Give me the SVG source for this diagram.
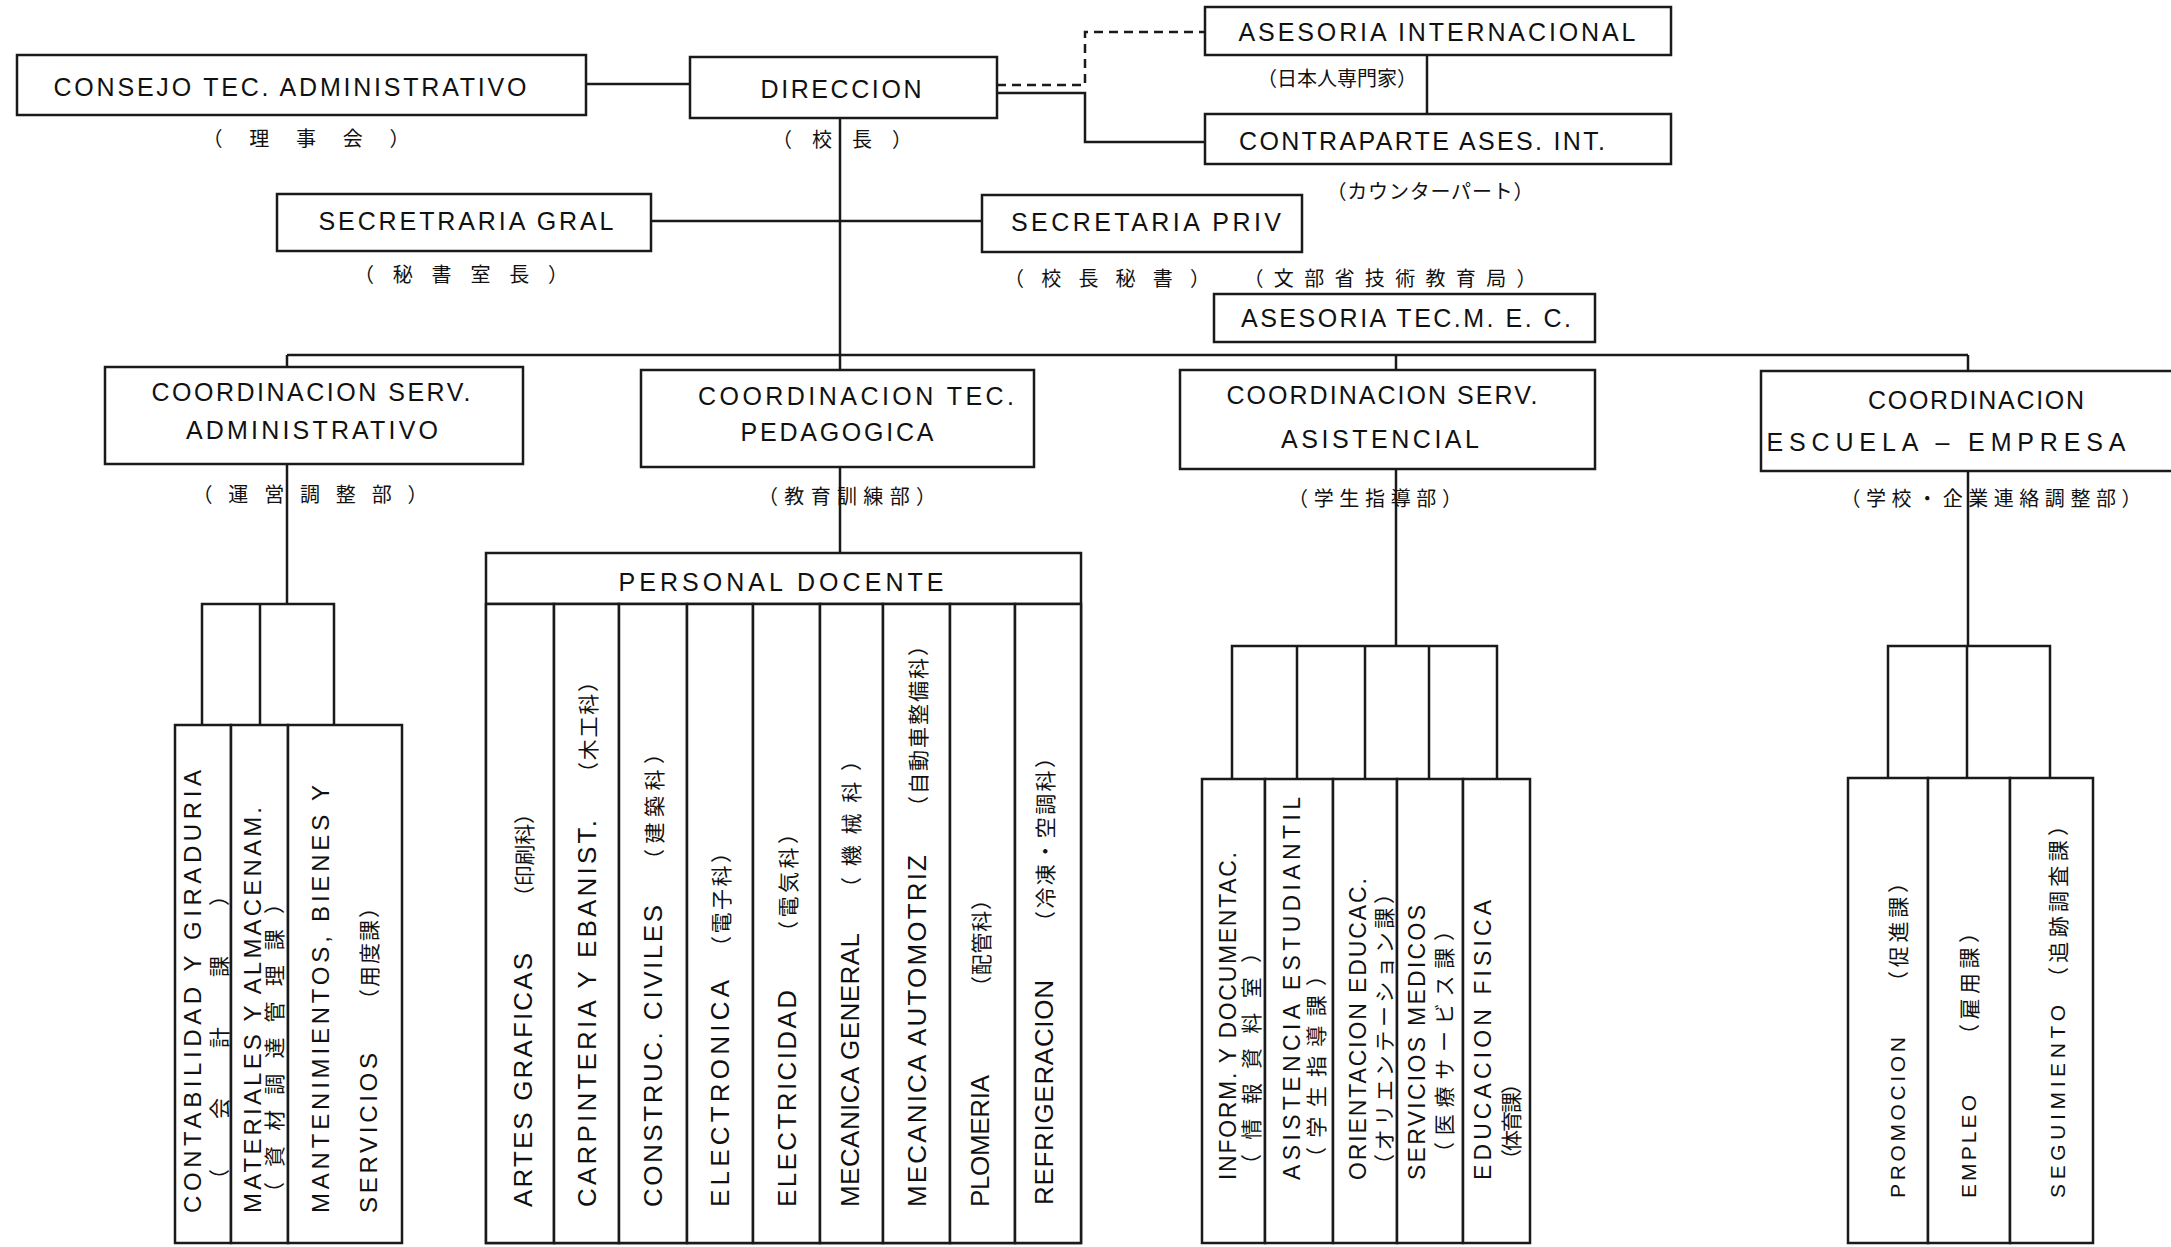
<svg xmlns="http://www.w3.org/2000/svg" width="2171" height="1247" viewBox="0 0 2171 1247">
<style>
.bg{fill:#fff}
.box{fill:#fff;stroke:#1a1a1a;stroke-width:2.5}
.ln{fill:none;stroke:#1a1a1a;stroke-width:2.5}
.dash{stroke-dasharray:9 6}
.t{font-family:"Liberation Sans",Arial,sans-serif;font-size:25px;fill:#111;text-anchor:middle;dominant-baseline:central}
.j{font-family:"Noto Sans CJK JP","Noto Sans CJK SC",sans-serif;font-size:20px;fill:#111;text-anchor:middle;dominant-baseline:central}
.v{font-family:"Liberation Sans",Arial,sans-serif;font-size:26px;fill:#111;text-anchor:start;dominant-baseline:central}
.vj{font-family:"Noto Sans CJK JP","Noto Sans CJK SC",sans-serif;font-size:21px;fill:#111;text-anchor:start;dominant-baseline:central}
.s24{font-size:24px}.s23{font-size:23px}.s21{font-size:21px}
</style>
<rect class="bg" x="0" y="0" width="2171" height="1247"/>

<g id="connectors">
  <line class="ln" x1="586" y1="84" x2="690" y2="84"/>
  <path class="ln dash" d="M997,85 H1085 V32 H1205"/>
  <path class="ln" d="M997,93 H1085 V142 H1205"/>
  <line class="ln" x1="1427" y1="55" x2="1427" y2="114"/>
  <line class="ln" x1="651" y1="221" x2="982" y2="221"/>
  <line class="ln" x1="840" y1="118" x2="840" y2="370"/>
  <line class="ln" x1="287" y1="355" x2="1968" y2="355"/>
  <line class="ln" x1="287" y1="355" x2="287" y2="367"/>
  <line class="ln" x1="1396" y1="355" x2="1396" y2="370"/>
  <line class="ln" x1="1968" y1="355" x2="1968" y2="371"/>
  <line class="ln" x1="287" y1="464" x2="287" y2="604"/>
  <line class="ln" x1="840" y1="467" x2="840" y2="553"/>
  <line class="ln" x1="1396" y1="469" x2="1396" y2="646"/>
  <line class="ln" x1="1968" y1="471" x2="1968" y2="646"/>
  <path class="ln" d="M202,725 V604 H334 V725 M260,604 V725"/>
  <path class="ln" d="M1232,779 V646 H1497 V779 M1297,646 V779 M1365,646 V779 M1429,646 V779"/>
  <path class="ln" d="M1888,778 V646 H2050 V778 M1967,646 V778"/>
</g>

<g id="consejo">
  <rect class="box" x="17" y="55" width="569" height="60"/>
  <text class="t" x="290" y="87" textLength="473">CONSEJO TEC. ADMINISTRATIVO</text>
  <text class="j" x="306" y="137" textLength="207">（理事会）</text>
</g>
<g id="direccion">
  <rect class="box" x="690" y="57" width="307" height="61"/>
  <text class="t" x="841" y="89" textLength="161">DIRECCION</text>
  <text class="j" x="842" y="138" textLength="140">（校長）</text>
</g>
<g id="asesoria-internacional">
  <rect class="box" x="1205" y="7" width="466" height="48"/>
  <text class="t" x="1437" y="32" textLength="397">ASESORIA INTERNACIONAL</text>
  <text class="j" x="1337" y="77" textLength="160">（日本人専門家）</text>
</g>
<g id="contraparte">
  <rect class="box" x="1205" y="114" width="466" height="50"/>
  <text class="t" x="1422" y="141" textLength="366">CONTRAPARTE ASES. INT.</text>
  <text class="j" x="1430" y="190" textLength="207">（カウンターパート）</text>
</g>
<g id="secretraria-gral">
  <rect class="box" x="277" y="194" width="374" height="57"/>
  <text class="t" x="466" y="221" textLength="295">SECRETRARIA GRAL</text>
  <text class="j" x="461" y="273" textLength="214">（秘書室長）</text>
</g>
<g id="secretaria-priv">
  <rect class="box" x="982" y="195" width="320" height="57"/>
  <text class="t" x="1146" y="222" textLength="270">SECRETARIA PRIV</text>
  <text class="j" x="1107" y="277" textLength="206">（校長秘書）</text>
</g>
<g id="asesoria-tec-mec">
  <text class="j" x="1390" y="277" textLength="293">（文部省技術教育局）</text>
  <rect class="box" x="1214" y="294" width="381" height="48"/>
  <text class="t" x="1406" y="318" textLength="330">ASESORIA TEC.M. E. C.</text>
</g>

<g id="coord-serv-administrativo">
  <rect class="box" x="105" y="367" width="418" height="97"/>
  <text class="t" x="311" y="392" textLength="319">COORDINACION SERV.</text>
  <text class="t" x="312" y="430" textLength="252">ADMINISTRATIVO</text>
  <text class="j" x="310" y="493" textLength="235">（運営調整部）</text>
</g>
<g id="coord-tec-pedagogica">
  <rect class="box" x="641" y="370" width="393" height="97"/>
  <text class="t" x="856" y="396" textLength="316">COORDINACION TEC.</text>
  <text class="t" x="837" y="432" textLength="193">PEDAGOGICA</text>
  <text class="j" x="847" y="495" textLength="178">（教育訓練部）</text>
</g>
<g id="coord-serv-asistencial">
  <rect class="box" x="1180" y="370" width="415" height="99"/>
  <text class="t" x="1382" y="395" textLength="311">COORDINACION SERV.</text>
  <text class="t" x="1380" y="439" textLength="198">ASISTENCIAL</text>
  <text class="j" x="1375" y="497" textLength="174">（学生指導部）</text>
</g>
<g id="coord-escuela-empresa">
  <rect class="box" x="1761" y="371" width="420" height="100"/>
  <text class="t" x="1976" y="400" textLength="216">COORDINACION</text>
  <text class="t" x="1946" y="442" textLength="359">ESCUELA – EMPRESA</text>
  <text class="j" x="1991" y="497" textLength="301">（学校・企業連絡調整部）</text>
</g>

<!-- Administrative sections -->
<g id="contabilidad">
  <rect class="box" x="175" y="725" width="56" height="518"/>
  <text class="v s24" transform="translate(192,1213) rotate(-90)" textLength="443">CONTABILIDAD Y GIRADURIA</text>
  <text class="vj" transform="translate(218,1190) rotate(-90)" textLength="305">（会計課）</text>
</g>
<g id="materiales">
  <rect class="box" x="231" y="725" width="57" height="518"/>
  <text class="v s24" transform="translate(252,1213) rotate(-90)" textLength="406">MATERIALES Y ALMACENAM.</text>
  <text class="vj" transform="translate(273,1203) rotate(-90)" textLength="310">（資材調達管理課）</text>
</g>
<g id="mantenimientos">
  <rect class="box" x="288" y="725" width="114" height="518"/>
  <text class="v s24" transform="translate(320,1213) rotate(-90)" textLength="428">MANTENIMIENTOS, BIENES Y</text>
  <text class="v s24" transform="translate(368,1213) rotate(-90)" textLength="160">SERVICIOS</text>
  <text class="vj" transform="translate(368,1010) rotate(-90)" textLength="113">（用度課）</text>
</g>

<!-- Personal docente -->
<g id="personal-docente">
  <rect class="box" x="486" y="553" width="595" height="690"/>
  <line class="ln" x1="486" y1="604" x2="1081" y2="604"/>
  <text class="t" x="781" y="582" textLength="325">PERSONAL DOCENTE</text>
</g>
<g id="artes-graficas">
  <rect class="box" x="486" y="604" width="68" height="639"/>
  <text class="v" transform="translate(523,1207) rotate(-90)" textLength="254">ARTES GRAFICAS</text>
  <text class="vj" transform="translate(523,907) rotate(-90)" textLength="104">（印刷科）</text>
</g>
<g id="carpinteria">
  <rect class="box" x="554" y="604" width="65" height="639"/>
  <text class="v" transform="translate(587,1207) rotate(-90)" textLength="387">CARPINTERIA Y EBANIST.</text>
  <text class="vj" transform="translate(587,783) rotate(-90)" textLength="112">（木工科）</text>
</g>
<g id="construc-civiles">
  <rect class="box" x="619" y="604" width="68" height="639"/>
  <text class="v" transform="translate(653,1207) rotate(-90)" textLength="302">CONSTRUC. CIVILES</text>
  <text class="vj" transform="translate(653,870) rotate(-90)" textLength="127">（建築科）</text>
</g>
<g id="electronica">
  <rect class="box" x="687" y="604" width="66" height="639"/>
  <text class="v" transform="translate(720,1207) rotate(-90)" textLength="227">ELECTRONICA</text>
  <text class="vj" transform="translate(720,957) rotate(-90)" textLength="115">（電子科）</text>
</g>
<g id="electricidad">
  <rect class="box" x="753" y="604" width="67" height="639"/>
  <text class="v" transform="translate(787,1207) rotate(-90)" textLength="217">ELECTRICIDAD</text>
  <text class="vj" transform="translate(787,942) rotate(-90)" textLength="119">（電気科）</text>
</g>
<g id="mecanica-general">
  <rect class="box" x="820" y="604" width="63" height="639"/>
  <text class="v" transform="translate(850,1207) rotate(-90)" textLength="274">MECANICA GENERAL</text>
  <text class="vj" transform="translate(850,898) rotate(-90)" textLength="148">（機械科）</text>
</g>
<g id="mecanica-automotriz">
  <rect class="box" x="883" y="604" width="67" height="639"/>
  <text class="v" transform="translate(917,1207) rotate(-90)" textLength="352">MECANICA AUTOMOTRIZ</text>
  <text class="vj" transform="translate(917,817) rotate(-90)" textLength="182">（自動車整備科）</text>
</g>
<g id="plomeria">
  <rect class="box" x="950" y="604" width="65" height="639"/>
  <text class="v" transform="translate(980,1207) rotate(-90)" textLength="132">PLOMERIA</text>
  <text class="vj" transform="translate(980,997) rotate(-90)" textLength="108">（配管科）</text>
</g>
<g id="refrigeracion">
  <rect class="box" x="1015" y="604" width="66" height="639"/>
  <text class="v" transform="translate(1044,1205) rotate(-90)" textLength="225">REFRIGERACION</text>
  <text class="vj" transform="translate(1044,932) rotate(-90)" textLength="185">（冷凍・空調科）</text>
</g>

<!-- Asistencial sections -->
<g id="inform-documentac">
  <rect class="box" x="1202" y="779" width="63" height="464"/>
  <text class="v s23" transform="translate(1228,1180) rotate(-90)" textLength="328">INFORM. Y DOCUMENTAC.</text>
  <text class="vj" transform="translate(1250,1175) rotate(-90)" textLength="233">（情報資料室）</text>
</g>
<g id="asistencia-estudiantil">
  <rect class="box" x="1265" y="779" width="68" height="464"/>
  <text class="v s23" transform="translate(1292,1180) rotate(-90)" textLength="383">ASISTENCIA ESTUDIANTIL</text>
  <text class="vj" transform="translate(1315,1168) rotate(-90)" textLength="203">（学生指導課）</text>
</g>
<g id="orientacion-educac">
  <rect class="box" x="1333" y="779" width="64" height="464"/>
  <text class="v s23" transform="translate(1358,1180) rotate(-90)" textLength="302">ORIENTACION EDUCAC.</text>
  <text class="vj" transform="translate(1383,1175) rotate(-90)" textLength="292">（オリエンテーション課）</text>
</g>
<g id="servicios-medicos">
  <rect class="box" x="1397" y="779" width="66" height="464"/>
  <text class="v s23" transform="translate(1417,1180) rotate(-90)" textLength="275">SERVICIOS MEDICOS</text>
  <text class="vj" transform="translate(1443,1163) rotate(-90)" textLength="243">（医療サービス課）</text>
</g>
<g id="educacion-fisica">
  <rect class="box" x="1463" y="779" width="67" height="464"/>
  <text class="v s23" transform="translate(1483,1180) rotate(-90)" textLength="280">EDUCACION FISICA</text>
  <text class="vj" transform="translate(1510,1170) rotate(-90)" textLength="97">（体育課）</text>
</g>

<!-- Escuela-Empresa sections -->
<g id="promocion">
  <rect class="box" x="1848" y="778" width="80" height="465"/>
  <text class="v s21" transform="translate(1897,1198) rotate(-90)" textLength="161">PROMOCION</text>
  <text class="vj" transform="translate(1897,992) rotate(-90)" textLength="120">（促進課）</text>
</g>
<g id="empleo">
  <rect class="box" x="1928" y="778" width="82" height="465"/>
  <text class="v s21" transform="translate(1968,1198) rotate(-90)" textLength="103">EMPLEO</text>
  <text class="vj" transform="translate(1968,1045) rotate(-90)" textLength="123">（雇用課）</text>
</g>
<g id="seguimiento">
  <rect class="box" x="2010" y="778" width="83" height="465"/>
  <text class="v s21" transform="translate(2057,1198) rotate(-90)" textLength="193">SEGUIMIENTO</text>
  <text class="vj" transform="translate(2057,988) rotate(-90)" textLength="173">（追跡調査課）</text>
</g>
</svg>
